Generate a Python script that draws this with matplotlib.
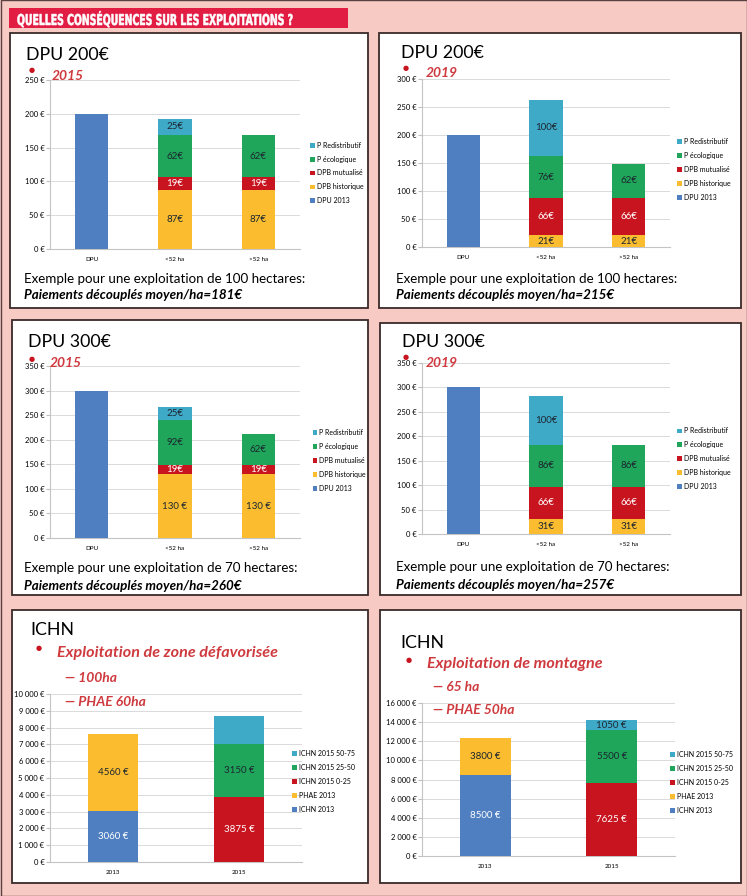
import matplotlib
matplotlib.use("Agg")
import matplotlib.pyplot as plt
from matplotlib.patches import Rectangle, PathPatch
from matplotlib.textpath import TextPath
from matplotlib.font_manager import FontProperties
from matplotlib.transforms import Affine2D
import numpy as np

# Canvas size in pixels (dpi 100)
W, H = 747, 896

# Colours
BG = '#f7cac4'
C_BLUE = '#4f7fc1'
C_YEL = '#fbbd2f'
C_RED = '#c8141f'
C_GRN = '#1fa65a'
C_CYA = '#3eaac8'
TXT_RED = '#cf3a3f'
SERIES_COLORS = [C_BLUE, C_YEL, C_RED, C_GRN, C_CYA]

# DPU panels: one row per series (bottom to top), one column per category
dpu_cats = ['DPU', '<52 ha', '>52 ha']
dpu_series = ['DPU 2013', 'DPB historique', 'DPB mutualisé', 'P écologique', 'P Redistributif']
dpu200_2015 = [[200, 0, 0], [0, 87, 87], [0, 19, 19], [0, 62, 62], [0, 25, 0]]
dpu200_2019 = [[200, 0, 0], [0, 21, 21], [0, 66, 66], [0, 76, 62], [0, 100, 0]]
dpu300_2015 = [[300, 0, 0], [0, 130, 130], [0, 19, 19], [0, 92, 62], [0, 25, 0]]
dpu300_2019 = [[300, 0, 0], [0, 31, 31], [0, 66, 66], [0, 86, 86], [0, 100, 0]]

# ICHN panels
ichn_cats = ['2013', '2015']
ichn_series = ['ICHN 2013', 'PHAE 2013', 'ICHN 2015 0-25', 'ICHN 2015 25-50', 'ICHN 2015 50-75']
ichn_defav = [[3060, 0], [4560, 0], [0, 3875], [0, 3150], [0, 1675]]
ichn_montagne = [[8500, 0], [3800, 0], [0, 7625], [0, 5500], [0, 1050]]

plt.rcParams['font.family'] = ['Lato', 'DejaVu Sans']

fig = plt.figure(figsize=(W / 100, H / 100), dpi=100, facecolor=BG)


def px_axes(x0, y0, x1, y1):
    return fig.add_axes([x0 / W, 1 - y1 / H, (x1 - x0) / W, (y1 - y0) / H])


def px_text(x, y, s, **kw):
    kw.setdefault('va', 'center')
    kw.setdefault('ha', 'left')
    return fig.text(x / W, 1 - y / H, s, **kw)


def px_box(x0, y0, x1, y1, **kw):
    fig.patches.append(Rectangle((x0 / W, 1 - y1 / H), (x1 - x0) / W, (y1 - y0) / H,
                                 transform=fig.transFigure, zorder=-1, **kw))


def euro(v):
    return f"{v:,}".replace(',', ' ') + ' €'


def stacked(ax, cats, series, vals, ymax, step, tickfmt, fmt, skip, leg_xy):
    x = np.arange(len(cats))
    bottom = np.zeros(len(cats))
    for i, (name, v) in enumerate(zip(series, vals)):
        v = np.array(v, dtype=float)
        ax.bar(x, v, 0.4, bottom=bottom, color=SERIES_COLORS[i], label=name, zorder=3)
        tc = 'white' if SERIES_COLORS[i] in (C_RED, C_BLUE) else '#1d2630'
        for j in range(len(cats)):
            if v[j] > 0 and (i, j) not in skip:
                ax.text(x[j], bottom[j] + v[j] / 2, fmt(i, int(v[j])), ha='center',
                        va='center', fontsize=7, color=tc, zorder=4)
        bottom += v
    ax.set_xlim(-0.5, len(cats) - 0.5)
    ax.set_ylim(0, ymax)
    ticks = np.arange(0, ymax + 1, step)
    ax.set_yticks(ticks)
    ax.set_yticklabels([tickfmt(int(t)) for t in ticks])
    ax.set_xticks(x)
    ax.set_xticklabels(cats)
    ax.tick_params(axis='y', labelsize=5.5, length=3, color='#bfbfbf', pad=1)
    ax.tick_params(axis='x', labelsize=4.5, length=0, pad=6)
    ax.grid(axis='y', color='#dadada', lw=0.7, zorder=0)
    ax.set_facecolor('none')
    for s in ('top', 'right'):
        ax.spines[s].set_visible(False)
    ax.spines['left'].set_color('#c4c4c4')
    ax.spines['bottom'].set_color('#c4c4c4')
    h, l = ax.get_legend_handles_labels()
    ax.legend(h[::-1], l[::-1], loc='center left', bbox_to_anchor=leg_xy, frameon=False,
              fontsize=5, handlelength=0.7, handleheight=0.7, handletextpad=0.3,
              labelspacing=1.0, borderpad=0, borderaxespad=0)


# Outer page edge
px_box(0.5, 0.5, W - 0.5, H - 0.5, facecolor=BG, edgecolor='#5a4040', lw=1.0)

# Title bar, condensed heavy lettering
px_box(9, 8, 348, 28, facecolor='#e11d44', edgecolor='none')
title = 'QUELLES CONSÉQUENCES SUR LES EXPLOITATIONS ?'
tp = TextPath((0, 0), title, size=15, prop=FontProperties(family='DejaVu Sans', weight='bold'))
sx = 275 / tp.get_extents().width
tr = Affine2D().scale(sx / W, 1 / H).translate(17 / W, (H - 25) / H) + fig.transFigure
fig.patches.append(PathPatch(tp, transform=tr, facecolor='white', edgecolor='white', lw=0.4))

# Panel frames
frames = [(10, 33, 368, 308), (379, 33, 741, 308), (12, 320, 368, 595),
          (380, 323, 741, 595), (12, 610, 368, 883), (380, 610, 741, 883)]
for f in frames:
    px_box(*f, facecolor='white', edgecolor='#3a2a2a', lw=1.3)


def dpu_fmt(i, v):
    return f"{v}€"


def dpu_fmt_sp(i, v):
    return f"{v} €" if v >= 100 else f"{v}€"


def dpu_tick(v):
    return f"{v} €"


def ichn_fmt(i, v):
    return f"{v} €"


skip_dpu = {(0, 0)}

# Panel 1 : DPU 200€ 2015
ax = px_axes(50, 80, 300, 249)
stacked(ax, dpu_cats, dpu_series, dpu200_2015, 250, 50, dpu_tick, dpu_fmt, skip_dpu, (1.04, 0.45))
# Panel 2 : DPU 200€ 2019
ax = px_axes(422, 79, 670, 247)
stacked(ax, dpu_cats, dpu_series, dpu200_2019, 300, 50, dpu_tick, dpu_fmt, skip_dpu, (1.03, 0.46))
# Panel 3 : DPU 300€ 2015
ax = px_axes(50, 366, 300, 538)
stacked(ax, dpu_cats, dpu_series, dpu300_2015, 350, 50, dpu_tick, dpu_fmt_sp, skip_dpu, (1.05, 0.45))
# Panel 4 : DPU 300€ 2019
ax = px_axes(422, 363, 670, 534)
stacked(ax, dpu_cats, dpu_series, dpu300_2019, 350, 50, dpu_tick, dpu_fmt, skip_dpu, (1.03, 0.44))
# Panel 5 : ICHN zone défavorisée
ax = px_axes(50, 694, 302, 862)
stacked(ax, ichn_cats, ichn_series, ichn_defav, 10000, 1000, euro, ichn_fmt, {(4, 1)}, (0.96, 0.48))
# Panel 6 : ICHN montagne
ax = px_axes(422, 703, 675, 856)
stacked(ax, ichn_cats, ichn_series, ichn_montagne, 16000, 2000, euro, ichn_fmt, set(), (0.98, 0.48))

# Panel headings and notes
heads = [(26, 55, 'DPU 200€', 32, 70, 52, 76, '2015'),
         (401, 53, 'DPU 200€', 406, 68, 426, 73, '2019'),
         (28, 342, 'DPU 300€', 32, 359, 50, 363, '2015'),
         (402, 342, 'DPU 300€', 406, 357, 426, 363, '2019')]
for tx, ty, t, dx, dy, yx, yy, yr in heads:
    px_text(tx, ty, t, fontsize=12.8)
    px_text(dx, dy, '●', fontsize=5, color=C_RED, ha='center', family='DejaVu Sans')
    px_text(yx, yy, yr, fontsize=10, color=TXT_RED, fontweight='bold', style='italic')

notes = [(24, 279, 295, 100, 181), (396, 279, 295, 100, 215),
         (24, 568, 586, 70, 260), (396, 567, 585, 70, 257)]
for nx, y1, y2, ha_, pay in notes:
    px_text(nx, y1, f'Exemple pour une exploitation de {ha_} hectares:', fontsize=9.6)
    px_text(nx, y2, f'Paiements découplés moyen/ha={pay}€', fontsize=9.6,
            fontweight='bold', style='italic')

# ICHN headings
red_bi = dict(color=TXT_RED, fontweight='bold', style='italic')
px_text(30, 630, 'ICHN', fontsize=12.8)
px_text(39, 648, '●', fontsize=5, color=C_RED, ha='center', family='DejaVu Sans')
px_text(57, 653, 'Exploitation de zone défavorisée', fontsize=11.6, **red_bi)
px_text(65, 678, '— 100ha', fontsize=10, **red_bi)
px_text(65, 702, '— PHAE 60ha', fontsize=10, **red_bi)

px_text(400, 643, 'ICHN', fontsize=12.8)
px_text(409, 660, '●', fontsize=5, color=C_RED, ha='center', family='DejaVu Sans')
px_text(427, 664, 'Exploitation de montagne', fontsize=11.6, **red_bi)
px_text(433, 687, '— 65 ha', fontsize=10, **red_bi)
px_text(433, 710, '— PHAE 50ha', fontsize=10, **red_bi)

fig.savefig('out.png', dpi=100, facecolor=BG)
